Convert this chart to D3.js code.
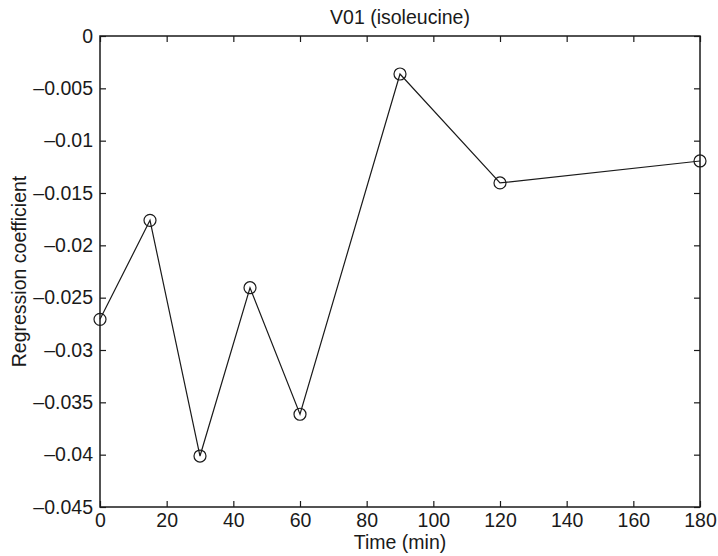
<!DOCTYPE html>
<html>
<head>
<meta charset="utf-8">
<script src="https://cdn.jsdelivr.net/npm/d3@7"></script>
<style>
  body { margin: 0; background: #fff; }
  text { font-family: "Liberation Sans", Arial, sans-serif; fill: #1a1a1a; }
</style>
</head>
<body>
<div id="chart"></div>
<script>
// data
const times = [0, 15, 30, 45, 60, 90, 120, 180];
const coefs = [-0.02707, -0.01761, -0.04013, -0.02405, -0.03614, -0.00363, -0.01404, -0.01194];
const xTicks = [0, 20, 40, 60, 80, 100, 120, 140, 160, 180];
const yTicks = [0, -0.005, -0.01, -0.015, -0.02, -0.025, -0.03, -0.035, -0.04, -0.045];

const width = 718, height = 556;
const margin = {top: 36, right: 18, bottom: 49, left: 100};
const fontSize = 19.5;

const svg = d3.select("#chart").append("svg")
    .attr("width", width)
    .attr("height", height);

const x = d3.scaleLinear().domain([0, 180]).range([margin.left, width - margin.right]);
const y = d3.scaleLinear().domain([-0.045, 0]).range([height - margin.bottom, margin.top]);

let fmt = function(d) { return d3.format(".3~f")(d).replace("\u2212", "\u2013").replace("-", "\u2013"); };

// bottom axis with labels, ticks pointing in
let gx = svg.append("g")
    .attr("transform", "translate(0," + y(-0.045) + ")")
    .call(d3.axisBottom(x).tickValues(xTicks).tickSizeInner(-6).tickSizeOuter(0).tickPadding(6).tickFormat(d3.format("d")));
gx.selectAll("text").attr("font-size", fontSize);

let gy = svg.append("g")
    .attr("transform", "translate(" + x(0) + ",0)")
    .call(d3.axisLeft(y).tickValues(yTicks).tickSizeInner(-6).tickSizeOuter(0).tickPadding(7).tickFormat(fmt));
gy.selectAll("text").attr("font-size", fontSize);

// mirrored ticks on top and right, no labels
svg.append("g")
    .attr("transform", "translate(0," + y(0) + ")")
    .call(d3.axisTop(x).tickValues(xTicks).tickSizeInner(-6).tickSizeOuter(0).tickFormat(""));
svg.append("g")
    .attr("transform", "translate(" + x(180) + ",0)")
    .call(d3.axisRight(y).tickValues(yTicks).tickSizeInner(-6).tickSizeOuter(0).tickFormat(""));

svg.selectAll(".domain").remove();
svg.selectAll(".tick line").attr("stroke", "#1a1a1a").attr("stroke-width", 1.2);

// frame
svg.append("rect")
    .attr("x", x(0))
    .attr("y", y(0))
    .attr("width", x(180) - x(0))
    .attr("height", y(-0.045) - y(0))
    .attr("fill", "none")
    .attr("stroke", "#1a1a1a")
    .attr("stroke-width", 1.5);

const pts = times.map(function(t, i) { return {t: t, v: coefs[i]}; });

svg.append("path")
    .datum(pts)
    .attr("fill", "none")
    .attr("stroke", "#1a1a1a")
    .attr("stroke-width", 1.2)
    .attr("d", d3.line().x(function(d) { return x(d.t); }).y(function(d) { return y(d.v); }));

svg.selectAll(".marker")
    .data(pts)
    .enter().append("circle")
    .attr("class", "marker")
    .attr("cx", function(d) { return x(d.t); })
    .attr("cy", function(d) { return y(d.v); })
    .attr("r", 6)
    .attr("fill", "none")
    .attr("stroke", "#1a1a1a")
    .attr("stroke-width", 1.2);

// labels
svg.append("text")
    .attr("x", (x(0) + x(180)) / 2)
    .attr("y", 24)
    .attr("text-anchor", "middle")
    .attr("font-size", fontSize)
    .text("V01 (isoleucine)");

svg.append("text")
    .attr("x", (x(0) + x(180)) / 2)
    .attr("y", 549)
    .attr("text-anchor", "middle")
    .attr("font-size", fontSize)
    .text("Time (min)");

svg.append("text")
    .attr("transform", "translate(26," + ((y(0) + y(-0.045)) / 2) + ") rotate(-90)")
    .attr("text-anchor", "middle")
    .attr("font-size", fontSize)
    .text("Regression coefficient");
</script>
</body>
</html>
